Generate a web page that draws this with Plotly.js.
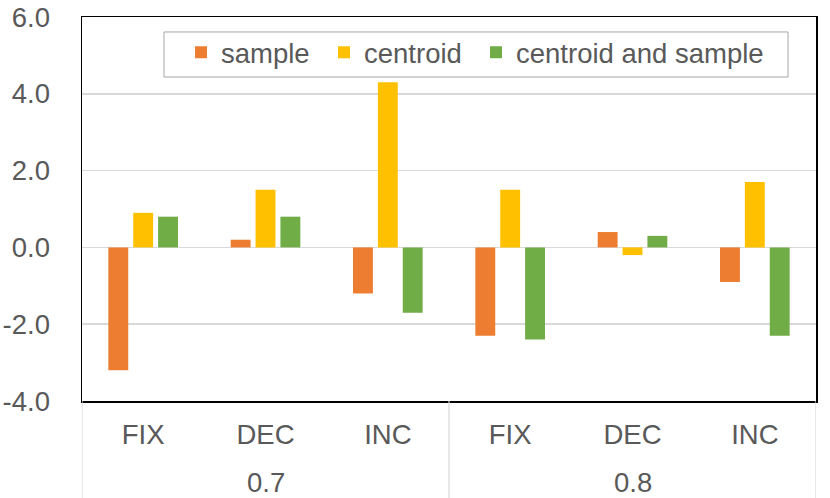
<!DOCTYPE html>
<html>
<head>
<meta charset="utf-8">
<script src="https://cdn.plot.ly/plotly-3.0.1.min.js"></script>
<style>
  html, body { margin: 0; padding: 0; background: #fff; }
  #chart { width: 830px; height: 498px; }
</style>
</head>
<body>
<div id="chart"></div>
<script>
// x positions follow the order of these labels
const methods = ['FIX', 'DEC', 'INC', 'FIX', 'DEC', 'INC'];
const groupLabels = ['0.7', '0.8'];

const sample = [-3.2, 0.2, -1.2, -2.3, 0.4, -0.9];
const centroid = [0.9, 1.5, 4.3, 1.5, -0.2, 1.7];
const centroidAndSample = [0.8, 0.8, -1.7, -2.4, 0.3, -2.3];

const yTicks = [-4, -2, 0, 2, 4, 6];

const font = 'Liberation Sans, Arial, sans-serif';
const textColor = '#595959';
const fontSize = 27.5;

const xPos = methods.map((m, i) => i);
const perGroup = methods.length / groupLabels.length;

function bar(name, values, color, legend) {
  return {
    type: 'bar',
    name: name,
    x: xPos,
    y: values,
    legend: legend,
    marker: { color: color, line: { width: 0 } },
    hoverinfo: 'y'
  };
}

const data = [
  bar('sample', sample, '#ED7D31', 'legend'),
  bar('centroid', centroid, '#FFC000', 'legend2'),
  bar('centroid and sample', centroidAndSample, '#70AD47', 'legend3')
];

// one legend per entry so the spacing can follow the original,
// the common frame is drawn as a shape
function legendAt(x) {
  return {
    orientation: 'h',
    x: x,
    xanchor: 'left',
    y: 0.972,
    yanchor: 'top',
    bgcolor: 'rgba(0,0,0,0)',
    borderwidth: 0,
    font: { family: font, size: fontSize, color: textColor }
  };
}

// group labels under the method labels
const annotations = groupLabels.map((g, k) => ({
  text: g,
  x: k * perGroup + (perGroup - 1) / 2,
  xref: 'x',
  y: -0.211,
  yref: 'paper',
  yanchor: 'middle',
  showarrow: false,
  font: { family: font, size: fontSize, color: textColor }
}));

const shapes = [{
  type: 'rect',
  xref: 'paper',
  yref: 'paper',
  x0: 0.1117,
  x1: 0.9619,
  y0: 0.8437,
  y1: 0.961,
  fillcolor: '#fff',
  line: { color: '#a6a6a6', width: 1 },
  layer: 'above'
}];

// light dividers between the groups, below the plot
for (let k = 0; k <= groupLabels.length; k++) {
  shapes.push({
    type: 'line',
    xref: 'x',
    yref: 'paper',
    x0: k * perGroup - 0.5,
    x1: k * perGroup - 0.5,
    y0: 0,
    y1: -0.26,
    line: { color: '#d9d9d9', width: 1.2 }
  });
}

const layout = {
  width: 830,
  height: 498,
  margin: { l: 82, r: 14, t: 17, b: 97 },
  paper_bgcolor: '#fff',
  plot_bgcolor: '#fff',
  font: { family: font, size: fontSize, color: textColor },
  barmode: 'group',
  bargap: 0.39,
  bargroupgap: 0.2,
  showlegend: true,
  legend: legendAt(0.1349),
  legend2: legendAt(0.3297),
  legend3: legendAt(0.5368),
  annotations: annotations,
  shapes: shapes,
  xaxis: {
    range: [-0.5, methods.length - 0.5],
    tickvals: xPos,
    ticktext: methods,
    showline: true,
    linecolor: '#000',
    linewidth: 1.5,
    mirror: true,
    showgrid: false,
    zeroline: false,
    ticklabelstandoff: 8,
    tickfont: { family: font, size: fontSize, color: textColor }
  },
  yaxis: {
    range: [-4, 6],
    tickvals: yTicks,
    ticktext: yTicks.map(v => v.toFixed(1)),
    showline: true,
    linecolor: '#000',
    linewidth: 1.5,
    mirror: true,
    showgrid: true,
    gridcolor: '#d9d9d9',
    gridwidth: 1.5,
    zeroline: true,
    zerolinecolor: '#d9d9d9',
    zerolinewidth: 1.5,
    ticks: 'outside',
    ticklen: 25,
    tickcolor: 'rgba(0,0,0,0)',
    tickfont: { family: font, size: fontSize, color: textColor }
  }
};

Plotly.newPlot('chart', data, layout, { displayModeBar: false, staticPlot: true });
</script>
</body>
</html>
